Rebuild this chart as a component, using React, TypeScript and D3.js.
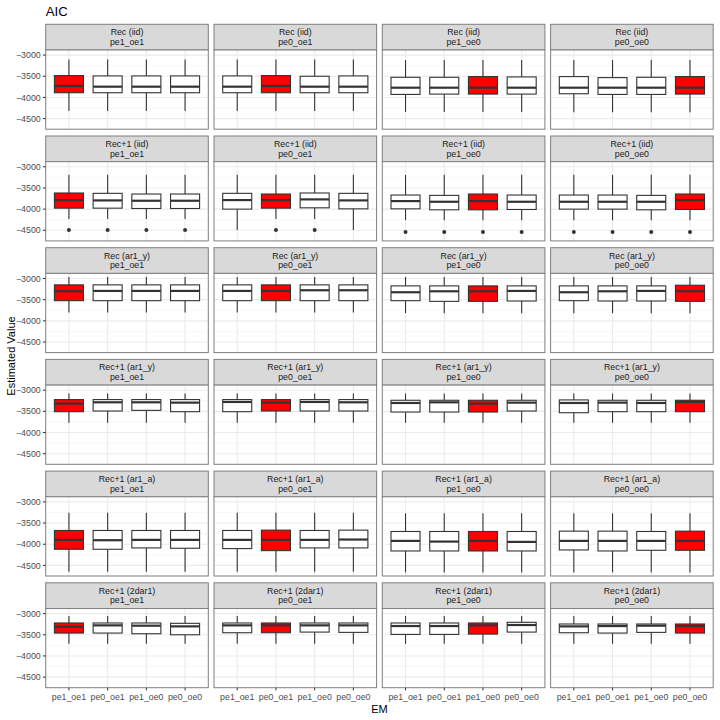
import React from "react";
import * as d3 from "d3";

// facet rows (model) and columns (operating model)
const models = ["Rec (iid)", "Rec+1 (iid)", "Rec (ar1_y)", "Rec+1 (ar1_y)", "Rec+1 (ar1_a)", "Rec+1 (2dar1)"];
const omLabels = ["pe1_oe1", "pe0_oe1", "pe1_oe0", "pe0_oe0"];
// x categories inside each panel
const emLabels = ["pe1_oe1", "pe0_oe1", "pe1_oe0", "pe0_oe0"];

// box stats: [row][col][em]
const whiskerHigh = [
  [[-3103, -3103, -3103, -3103], [-3103, -3103, -3103, -3103], [-3119, -3119, -3119, -3119], [-3119, -3119, -3119, -3119]],
  [[-3191, -3191, -3191, -3191], [-3191, -3191, -3191, -3191], [-3191, -3191, -3191, -3191], [-3191, -3191, -3191, -3191]],
  [[-2965, -2965, -2965, -2965], [-2965, -2965, -2965, -2965], [-2965, -2965, -2965, -2965], [-2965, -2965, -2965, -2965]],
  [[-3079, -3079, -3079, -3079], [-3079, -3079, -3079, -3079], [-3079, -3079, -3079, -3079], [-3079, -3079, -3079, -3079]],
  [[-3254, -3254, -3254, -3254], [-3254, -3254, -3254, -3254], [-3270, -3270, -3270, -3270], [-3270, -3270, -3270, -3270]],
  [[-3056, -3056, -3056, -3056], [-3056, -3056, -3056, -3056], [-3056, -3056, -3056, -3056], [-3056, -3056, -3056, -3056]],
];

const q3 = [
  [[-3484, -3492, -3492, -3492], [-3492, -3484, -3500, -3492], [-3524, -3524, -3508, -3516], [-3508, -3532, -3524, -3508]],
  [[-3619, -3627, -3643, -3643], [-3627, -3643, -3619, -3627], [-3667, -3675, -3643, -3667], [-3667, -3667, -3675, -3643]],
  [[-3151, -3151, -3151, -3151], [-3151, -3151, -3151, -3151], [-3175, -3175, -3175, -3175], [-3175, -3175, -3175, -3159]],
  [[-3222, -3222, -3222, -3222], [-3222, -3222, -3222, -3222], [-3238, -3238, -3238, -3238], [-3230, -3238, -3238, -3238]],
  [[-3675, -3675, -3675, -3675], [-3675, -3667, -3675, -3667], [-3699, -3699, -3699, -3699], [-3691, -3691, -3699, -3691]],
  [[-3222, -3222, -3222, -3230], [-3222, -3222, -3222, -3222], [-3222, -3222, -3222, -3206], [-3246, -3246, -3246, -3246]],
];

const median = [
  [[-3730, -3746, -3746, -3746], [-3746, -3730, -3746, -3746], [-3770, -3770, -3770, -3770], [-3770, -3770, -3770, -3770]],
  [[-3786, -3794, -3802, -3802], [-3786, -3786, -3770, -3794], [-3810, -3826, -3810, -3826], [-3826, -3826, -3826, -3786]],
  [[-3302, -3294, -3294, -3294], [-3294, -3294, -3278, -3278], [-3325, -3302, -3302, -3294], [-3325, -3302, -3294, -3302]],
  [[-3318, -3286, -3286, -3294], [-3278, -3294, -3278, -3286], [-3302, -3286, -3318, -3294], [-3302, -3294, -3302, -3278]],
  [[-3897, -3905, -3897, -3897], [-3897, -3897, -3897, -3889], [-3921, -3937, -3921, -3945], [-3921, -3921, -3921, -3921]],
  [[-3310, -3278, -3286, -3302], [-3278, -3278, -3278, -3278], [-3294, -3294, -3278, -3270], [-3302, -3294, -3286, -3294]],
];

const q1 = [
  [[-3889, -3889, -3889, -3889], [-3889, -3889, -3889, -3889], [-3929, -3921, -3921, -3921], [-3913, -3929, -3929, -3921]],
  [[-3977, -3977, -3985, -3985], [-4000, -3977, -3969, -3993], [-3993, -4016, -4016, -4008], [-4000, -4000, -4016, -4008]],
  [[-3524, -3524, -3524, -3524], [-3524, -3524, -3524, -3524], [-3524, -3540, -3540, -3532], [-3524, -3532, -3532, -3540]],
  [[-3508, -3492, -3476, -3508], [-3508, -3492, -3492, -3492], [-3516, -3516, -3516, -3492], [-3532, -3508, -3508, -3508]],
  [[-4119, -4119, -4087, -4095], [-4103, -4151, -4087, -4087], [-4159, -4159, -4159, -4159], [-4135, -4159, -4143, -4143]],
  [[-3460, -3460, -3476, -3500], [-3452, -3452, -3437, -3444], [-3492, -3492, -3484, -3437], [-3452, -3460, -3444, -3460]],
];

const whiskerLow = [
  [[-4318, -4318, -4318, -4318], [-4318, -4318, -4318, -4318], [-4342, -4342, -4342, -4342], [-4350, -4350, -4350, -4350]],
  [[-4231, -4231, -4231, -4231], [-4493, -4231, -4231, -4493], [-4262, -4262, -4262, -4262], [-4262, -4262, -4262, -4262]],
  [[-3802, -3802, -3802, -3802], [-3802, -3802, -3802, -3802], [-3818, -3818, -3818, -3818], [-3818, -3818, -3818, -3818]],
  [[-3770, -3770, -3770, -3770], [-3770, -3770, -3770, -3770], [-3770, -3770, -3770, -3770], [-3770, -3770, -3770, -3770]],
  [[-4650, -4650, -4650, -4650], [-4650, -4650, -4650, -4650], [-4665, -4665, -4665, -4665], [-4665, -4665, -4665, -4665]],
  [[-3714, -3714, -3714, -3714], [-3714, -3714, -3714, -3714], [-3714, -3714, -3714, -3714], [-3714, -3714, -3714, -3714]],
];

// outliers only appear in the Rec+1 (iid) row
const outliersIid = [
  [[-4493], [-4493], [-4493], [-4493]],
  [[], [-4493], [-4493], []],
  [[-4540], [-4540], [-4540], [-4540]],
  [[-4540], [-4540], [-4540], [-4540]],
];
const outlierRow = 1;

const font = "'Liberation Sans', Arial, Helvetica, sans-serif";

export default function App() {
  const width = 720;
  const height = 720;

  const left0 = 45.7;
  const panelW = 162.6;
  const colPitch = 168.3;
  const top0 = 24.3;
  const stripH = 25.7;
  const plotH = 79.2;
  const rowPitch = 111.7;

  const allVals = [...whiskerHigh.flat(2), ...whiskerLow.flat(2), ...outliersIid.flat(2)];
  const [lo, hi] = d3.extent(allVals) as [number, number];
  const pad = (hi - lo) * 0.05;

  const y = d3.scaleLinear().domain([lo - pad, hi + pad]).range([plotH, 0]);
  const x = d3.scalePoint<string>().domain(emLabels).range([0, panelW]).padding(0.6);
  const boxW = x.step() * 0.75;

  const majorTicks = y.ticks(4);
  const minorTicks = majorTicks.slice(1).map((t, i) => (t + majorTicks[i]) / 2);

  const panels: JSX.Element[] = [];

  models.forEach((model, r) => {
    omLabels.forEach((om, c) => {
      const px = left0 + c * colPitch;
      const py = top0 + r * rowPitch;
      const plotTop = py + stripH;

      panels.push(
        <g key={`p-${r}-${c}`}>
          {/* strip */}
          <rect x={px} y={py} width={panelW} height={stripH} fill="#D9D9D9" stroke="#7F7F7F" strokeWidth={1} />
          <text x={px + panelW / 2} y={py + 11} textAnchor="middle" fontSize={8.8} fill="#1A1A1A" fontFamily={font}>
            {model}
          </text>
          <text x={px + panelW / 2} y={py + 20.5} textAnchor="middle" fontSize={8.8} fill="#1A1A1A" fontFamily={font}>
            {om}
          </text>

          <g transform={`translate(${px},${plotTop})`}>
            <rect x={0} y={0} width={panelW} height={plotH} fill="#FFFFFF" />
            {minorTicks.map(t => (
              <line key={`mn${t}`} x1={0} x2={panelW} y1={y(t)} y2={y(t)} stroke="#F2F2F2" strokeWidth={0.6} />
            ))}
            {majorTicks.map(t => (
              <line key={`mj${t}`} x1={0} x2={panelW} y1={y(t)} y2={y(t)} stroke="#EBEBEB" strokeWidth={1.1} />
            ))}
            {emLabels.map(e => (
              <line key={`vx${e}`} x1={x(e)} x2={x(e)} y1={0} y2={plotH} stroke="#EBEBEB" strokeWidth={1.1} />
            ))}

            {emLabels.map((e, k) => {
              const cx = x(e) as number;
              const fill = e === om ? "#FF0000" : "#FFFFFF";
              const outs = r === outlierRow ? outliersIid[c][k] : [];
              return (
                <g key={`b${e}`}>
                  <line x1={cx} x2={cx} y1={y(whiskerHigh[r][c][k])} y2={y(q3[r][c][k])} stroke="#333333" strokeWidth={1.1} />
                  <line x1={cx} x2={cx} y1={y(q1[r][c][k])} y2={y(whiskerLow[r][c][k])} stroke="#333333" strokeWidth={1.1} />
                  <rect
                    x={cx - boxW / 2}
                    y={y(q3[r][c][k])}
                    width={boxW}
                    height={y(q1[r][c][k]) - y(q3[r][c][k])}
                    fill={fill}
                    stroke="#333333"
                    strokeWidth={1.1}
                  />
                  <line
                    x1={cx - boxW / 2}
                    x2={cx + boxW / 2}
                    y1={y(median[r][c][k])}
                    y2={y(median[r][c][k])}
                    stroke="#333333"
                    strokeWidth={2.2}
                  />
                  {outs.map((o, j) => (
                    <circle key={j} cx={cx} cy={y(o)} r={2} fill="#333333" />
                  ))}
                </g>
              );
            })}

            <rect x={0} y={0} width={panelW} height={plotH} fill="none" stroke="#7F7F7F" strokeWidth={1} />

            {/* y axis on first column */}
            {c === 0 &&
              majorTicks.map(t => (
                <g key={`yt${t}`}>
                  <line x1={-2.75} x2={0} y1={y(t)} y2={y(t)} stroke="#333333" strokeWidth={1} />
                  <text x={-5} y={y(t) + 3.1} textAnchor="end" fontSize={8.8} fill="#4D4D4D" fontFamily={font}>
                    {d3.format("d")(t)}
                  </text>
                </g>
              ))}

            {/* x axis on bottom row */}
            {r === models.length - 1 &&
              emLabels.map(e => (
                <g key={`xt${e}`}>
                  <line x1={x(e)} x2={x(e)} y1={plotH} y2={plotH + 2.75} stroke="#333333" strokeWidth={1} />
                  <text x={x(e)} y={plotH + 11.8} textAnchor="middle" fontSize={8.8} fill="#4D4D4D" fontFamily={font}>
                    {e}
                  </text>
                </g>
              ))}
          </g>
        </g>
      );
    });
  });

  const gridBottom = top0 + (models.length - 1) * rowPitch + stripH + plotH;
  const gridRight = left0 + 3 * colPitch + panelW;

  return (
    <svg
      width={width}
      height={height}
      style={{ position: "absolute", left: 0, top: 0, background: "#FFFFFF" }}
    >
      <rect x={0} y={0} width={width} height={height} fill="#FFFFFF" />
      <text x={left0} y={15.5} fontSize={13.2} fill="#000000" fontFamily={font}>
        AIC
      </text>
      {panels}
      <text
        x={(left0 + gridRight) / 2}
        y={gridBottom + 25}
        textAnchor="middle"
        fontSize={11}
        fill="#000000"
        fontFamily={font}
      >
        EM
      </text>
      <text
        transform={`translate(15,${(top0 + gridBottom) / 2}) rotate(-90)`}
        textAnchor="middle"
        fontSize={11}
        fill="#000000"
        fontFamily={font}
      >
        Estimated Value
      </text>
    </svg>
  );
}
